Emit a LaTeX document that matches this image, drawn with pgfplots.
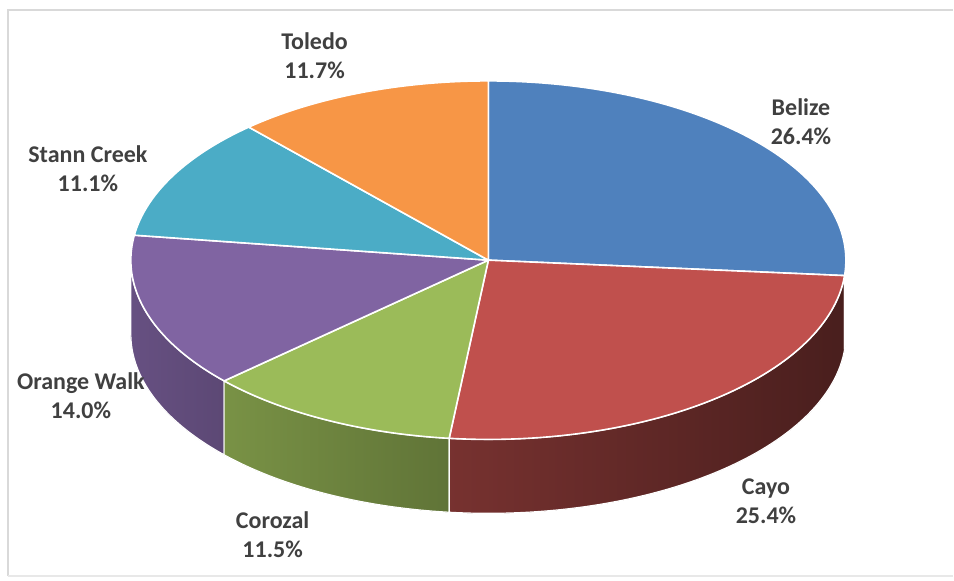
\documentclass[border=0pt]{standalone}
\usepackage{pgfplots}
\pgfplotsset{compat=1.18}
\usepackage{pgfplotstable}
\usepgfplotslibrary{fillbetween}
\usepackage{fontspec}
\setmainfont{Carlito}

\definecolor{cBelize}{HTML}{4F81BD}
\definecolor{cCayo}{HTML}{C0504D}
\definecolor{cCorozal}{HTML}{9BBB59}
\definecolor{cOrange}{HTML}{8064A2}
\definecolor{cStann}{HTML}{4BACC6}
\definecolor{cToledo}{HTML}{F79646}
\definecolor{labelgray}{HTML}{404040}
\definecolor{framegray}{HTML}{D9D9D9}

% share of each district, in per cent
\pgfplotstableread[col sep=comma]{
district,share
Belize,26.4
Cayo,25.4
Corozal,11.5
Orange Walk,14.0
Stann Creek,11.1
Toledo,11.7
}\piedata

\newcommand\getshare[2]{\pgfplotstablegetelem{#1}{share}\of\piedata\edef#2{\pgfplotsretval}}

\begin{document}
\begin{tikzpicture}
\getshare{0}\sA
\getshare{1}\sB
\getshare{2}\sC
\getshare{3}\sD
\getshare{4}\sE
\getshare{5}\sF
\pgfmathsetmacro\total{\sA+\sB+\sC+\sD+\sE+\sF}
% slice borders, clockwise from twelve o'clock
\pgfmathsetmacro\aA{90}
\pgfmathsetmacro\aB{\aA-360*\sA/\total}
\pgfmathsetmacro\aC{\aB-360*\sB/\total}
\pgfmathsetmacro\aD{\aC-360*\sC/\total}
\pgfmathsetmacro\aE{\aD-360*\sD/\total}
\pgfmathsetmacro\aF{\aE-360*\sE/\total}
\pgfmathsetmacro\aG{\aF-360*\sF/\total}
% pie geometry (pixels)
\def\cx{489}
\def\cy{320.5}
\def\rx{358}
\def\ry{179.5}
\def\dep{74}
\pgfmathsetmacro\xB{\cx+\rx*cos(\aB)}
\pgfmathsetmacro\xC{\cx+\rx*cos(\aC)}
\pgfmathsetmacro\xD{\cx+\rx*cos(\aD)}
\pgfmathsetmacro\xL{\cx-\rx}
\pgfmathsetmacro\xR{\cx+\rx}
\begin{axis}[
    scale only axis,
    width=954pt, height=581pt,
    xmin=0, xmax=954, ymin=0, ymax=581,
    enlargelimits=false,
    hide axis,
    clip=false,
    every axis plot/.append style={line join=round},
]
\path (axis cs:0,0) rectangle (axis cs:954,581);
\draw[framegray, line width=2.5pt] (axis cs:8,4) -- (axis cs:8,571) -- (axis cs:954,571);
\draw[framegray!60, line width=1.5pt] (axis cs:8,4) -- (axis cs:954,4);

% rim of the pie, front half
\addplot[draw=none, name path=rimT, domain=-180:0, samples=241, variable=\t]
    ({\cx+\rx*cos(\t)}, {\cy+\ry*sin(\t)});
\addplot[draw=none, name path=rimB, domain=-180:0, samples=241, variable=\t]
    ({\cx+\rx*cos(\t)}, {\cy-\dep+\ry*sin(\t)});

% side walls
\addplot[left color=cOrange!80!black, right color=cOrange!72!black, draw=white, line width=1.2pt]
    fill between[of=rimT and rimB, soft clip={domain=\xL:\xD}];
\addplot[left color=cCorozal!78!black, right color=cCorozal!62!black, draw=white, line width=1.2pt]
    fill between[of=rimT and rimB, soft clip={domain=\xD:\xC}];
\addplot[left color=cCayo!62!black, right color=cCayo!38!black, draw=white, line width=1.2pt]
    fill between[of=rimT and rimB, soft clip={domain=\xC:\xB}];
\addplot[fill=cBelize!60!black, draw=white, line width=1.2pt]
    fill between[of=rimT and rimB, soft clip={domain=\xB:\xR}];

% top face
\addplot[fill=cBelize, draw=white, line width=1.6pt, domain=\aB:\aA, samples=90, variable=\t]
    ({\cx+\rx*cos(\t)}, {\cy+\ry*sin(\t)}) -- (axis cs:\cx,\cy) -- cycle;
\addplot[fill=cCayo, draw=white, line width=1.6pt, domain=\aC:\aB, samples=90, variable=\t]
    ({\cx+\rx*cos(\t)}, {\cy+\ry*sin(\t)}) -- (axis cs:\cx,\cy) -- cycle;
\addplot[fill=cCorozal, draw=white, line width=1.6pt, domain=\aD:\aC, samples=60, variable=\t]
    ({\cx+\rx*cos(\t)}, {\cy+\ry*sin(\t)}) -- (axis cs:\cx,\cy) -- cycle;
\addplot[fill=cOrange, draw=white, line width=1.6pt, domain=\aE:\aD, samples=60, variable=\t]
    ({\cx+\rx*cos(\t)}, {\cy+\ry*sin(\t)}) -- (axis cs:\cx,\cy) -- cycle;
\addplot[fill=cStann, draw=white, line width=1.6pt, domain=\aF:\aE, samples=60, variable=\t]
    ({\cx+\rx*cos(\t)}, {\cy+\ry*sin(\t)}) -- (axis cs:\cx,\cy) -- cycle;
\addplot[fill=cToledo, draw=white, line width=1.6pt, domain=\aG:\aF, samples=60, variable=\t]
    ({\cx+\rx*cos(\t)}, {\cy+\ry*sin(\t)}) -- (axis cs:\cx,\cy) -- cycle;

% data labels
\tikzset{lbl/.style={text=labelgray, align=center, inner sep=0pt,
    font=\bfseries\fontsize{24}{29}\selectfont}}
\node[lbl] at (axis cs:802,459) {Belize\\26.4\%};
\node[lbl] at (axis cs:767,79) {Cayo\\25.4\%};
\node[lbl] at (axis cs:273,46) {Corozal\\11.5\%};
\node[lbl] at (axis cs:81,185) {Orange Walk\\14.0\%};
\node[lbl] at (axis cs:88,412) {Stann Creek\\11.1\%};
\node[lbl] at (axis cs:315,525) {Toledo\\11.7\%};
\end{axis}
\end{tikzpicture}
\end{document}
